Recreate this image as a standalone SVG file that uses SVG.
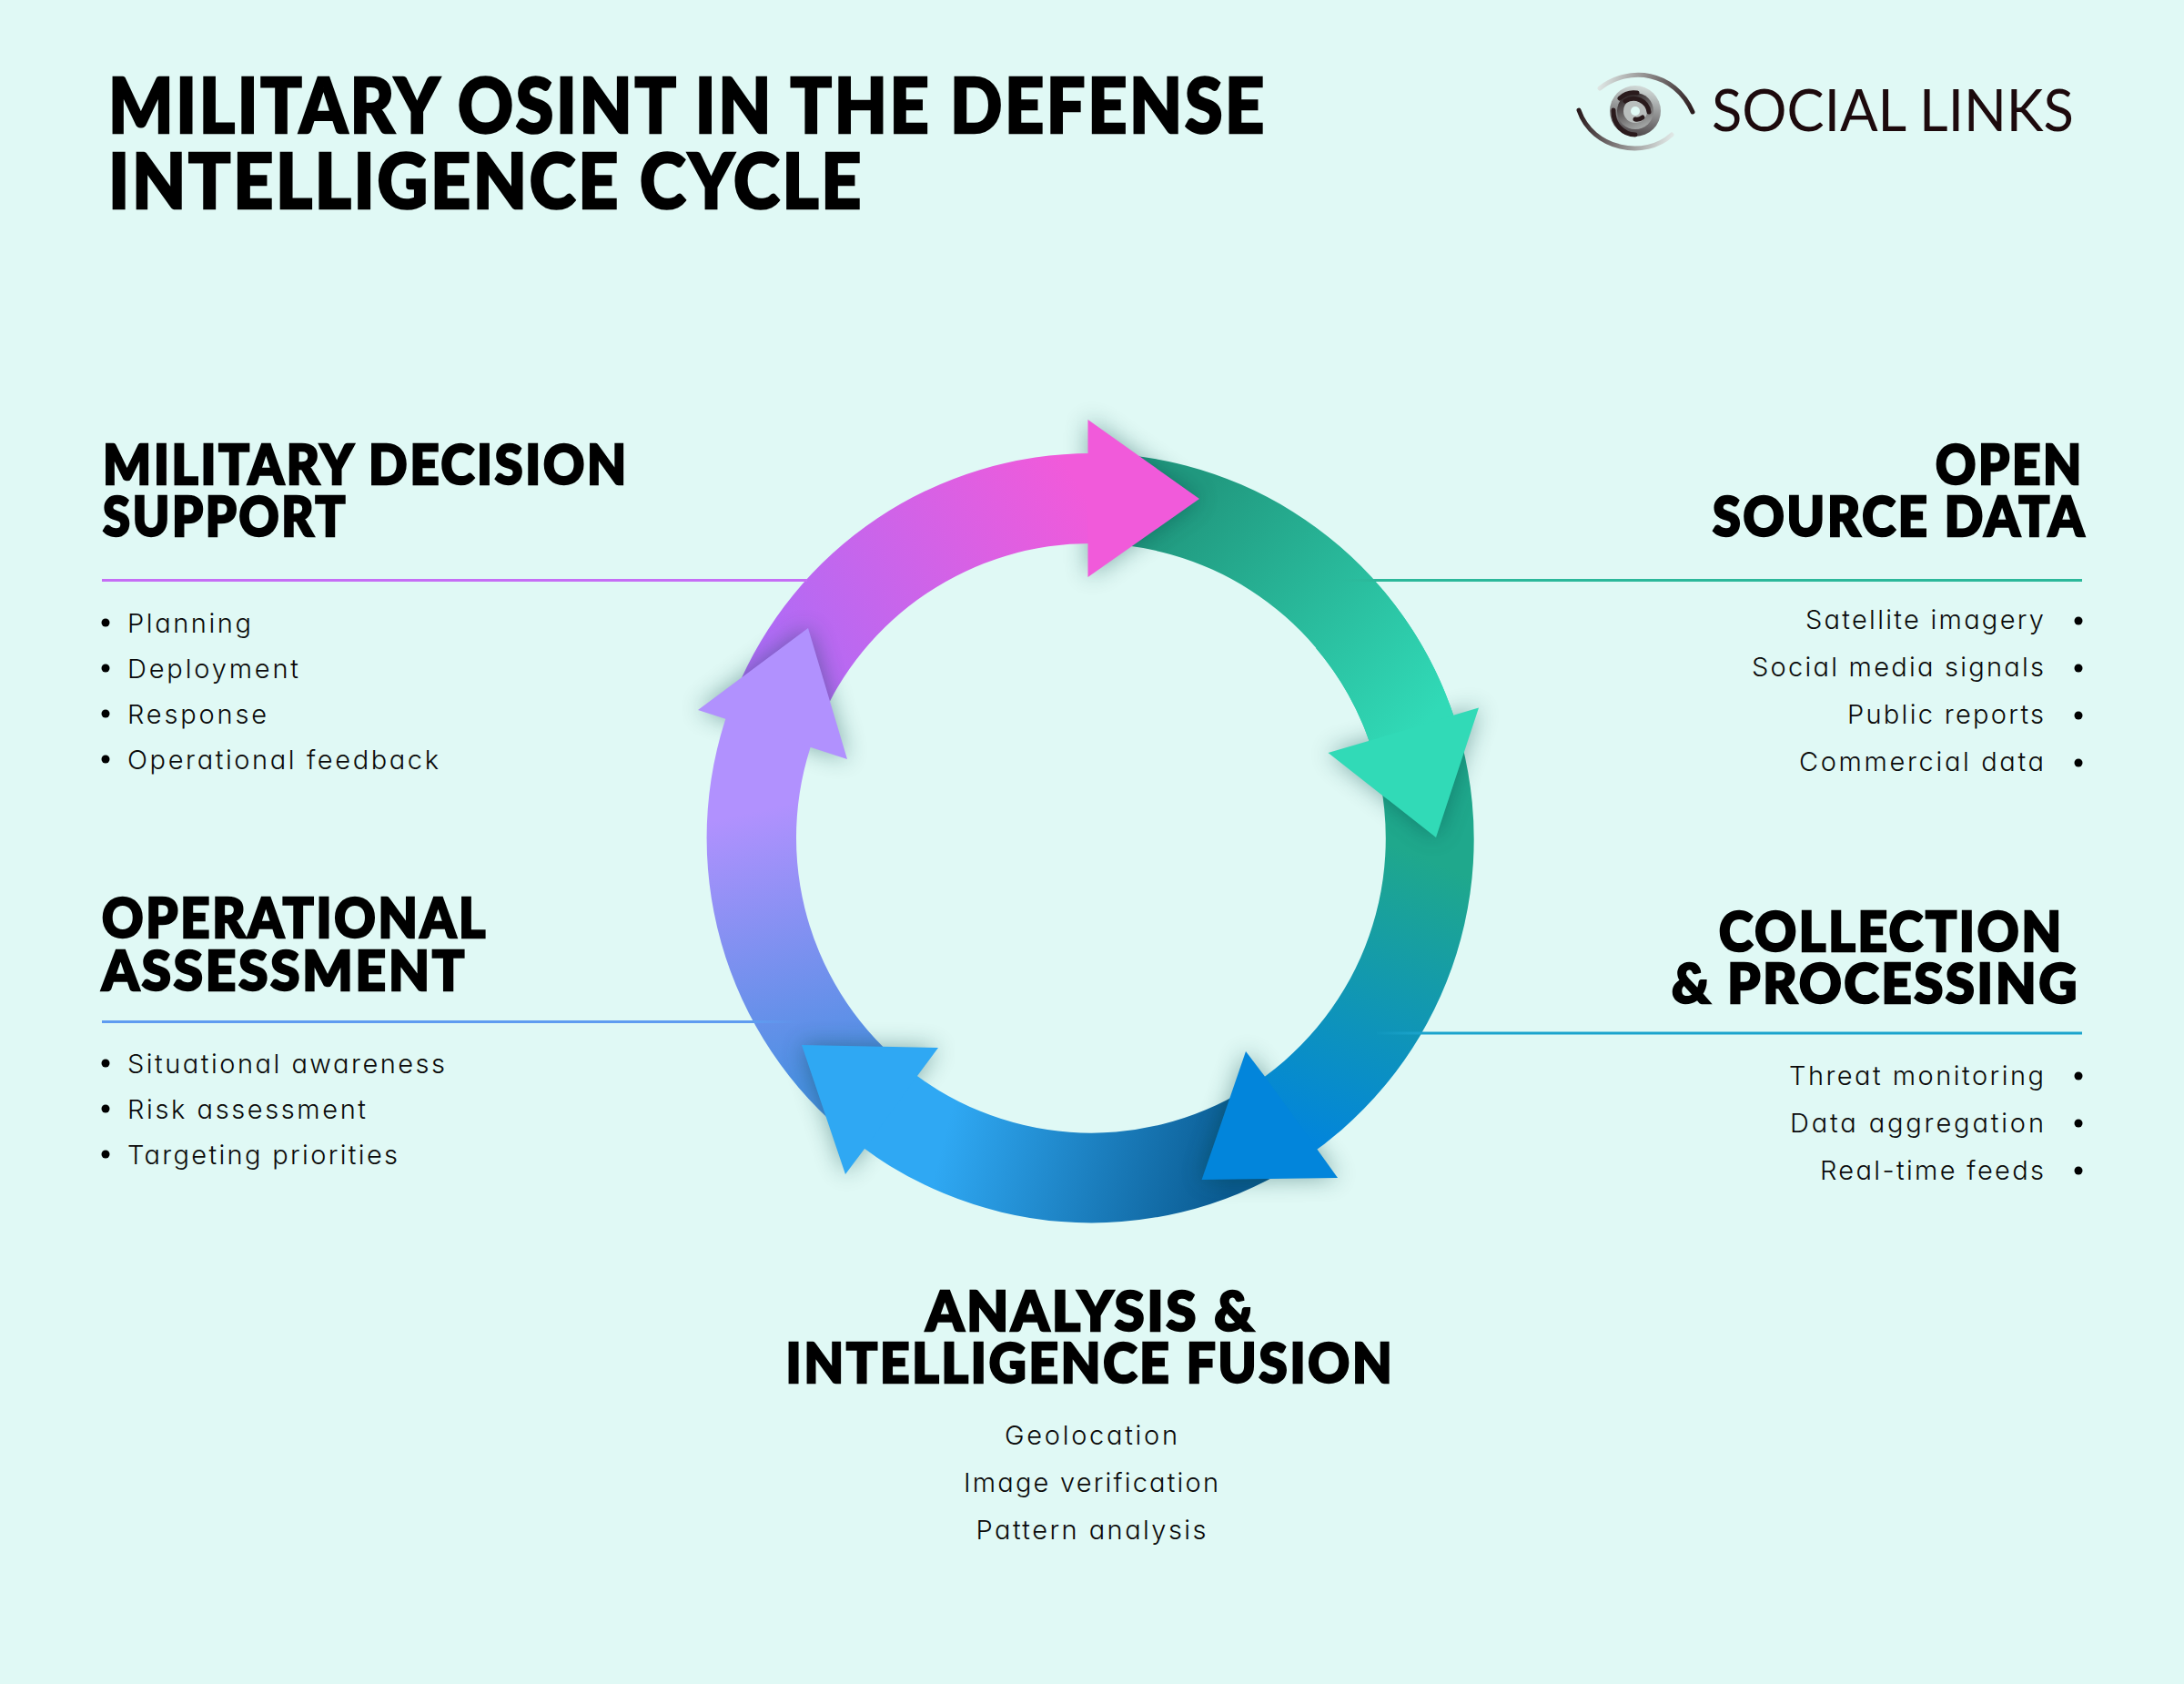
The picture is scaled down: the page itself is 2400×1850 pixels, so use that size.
<svg xmlns="http://www.w3.org/2000/svg" width="2400" height="1850" viewBox="0 0 2400 1850">
<style>
text{font-variant-ligatures:none}
.t{font-family:"Lato","Liberation Sans",sans-serif;font-weight:900;fill:#000;stroke:#000;stroke-width:2.6;letter-spacing:3px}
.title{font-size:84px}
.h{font-size:60px}
.b{font-family:"Inter","Lato","Liberation Sans",sans-serif;font-size:29px;font-weight:300;fill:#0a0a0a;font-feature-settings:"cv11" 1}
.e{text-anchor:end}
.m{text-anchor:middle}
.logo{font-family:"Lato","Liberation Sans",sans-serif;font-size:63px;font-weight:400;fill:#1d0a0d}
.dot{fill:#000}
.spiral{fill:none;stroke:#2a1a1c;stroke-width:5;stroke-linecap:round}
.sh{fill:#0c3f3f;opacity:.42;filter:url(#blur)}
</style>
<defs>
<filter id="blur" x="-40%" y="-40%" width="180%" height="180%"><feGaussianBlur stdDeviation="13"/></filter>
<linearGradient id="gPink" gradientUnits="userSpaceOnUse" x1="860" y1="740" x2="1190" y2="540"><stop offset="0" stop-color="#ae6cf6"/><stop offset="1" stop-color="#f15ada"/></linearGradient>
<linearGradient id="gTeal" gradientUnits="userSpaceOnUse" x1="1310" y1="550" x2="1570" y2="790"><stop offset="0" stop-color="#219a80"/><stop offset="1" stop-color="#31dab7"/></linearGradient>
<linearGradient id="gBlue" gradientUnits="userSpaceOnUse" x1="1560" y1="940" x2="1430" y2="1250"><stop offset="0" stop-color="#1fa88c"/><stop offset="1" stop-color="#0285db"/></linearGradient>
<linearGradient id="gBottom" gradientUnits="userSpaceOnUse" x1="1350" y1="1320" x2="1040" y2="1240"><stop offset="0" stop-color="#0a5a90"/><stop offset="1" stop-color="#2fa8f3"/></linearGradient>
<linearGradient id="gPurple" gradientUnits="userSpaceOnUse" x1="900" y1="1190" x2="835" y2="890"><stop offset="0" stop-color="#4a90e2"/><stop offset="1" stop-color="#b191fe"/></linearGradient>
<linearGradient id="lT" gradientUnits="userSpaceOnUse" x1="1468" y1="0" x2="1511" y2="0"><stop offset="0" stop-color="#2bb89a" stop-opacity="0"/><stop offset="1" stop-color="#2bb89a"/></linearGradient>
<linearGradient id="lB" gradientUnits="userSpaceOnUse" x1="828" y1="0" x2="880" y2="0"><stop offset="0" stop-color="#5f9cf0"/><stop offset="1" stop-color="#5f9cf0" stop-opacity="0"/></linearGradient>
<linearGradient id="lC" gradientUnits="userSpaceOnUse" x1="1513" y1="0" x2="1563" y2="0"><stop offset="0" stop-color="#1ba4cd" stop-opacity="0.1"/><stop offset="1" stop-color="#1ba4cd"/></linearGradient>
<linearGradient id="eyeUp" gradientUnits="userSpaceOnUse" x1="1758" y1="90" x2="1860" y2="123"><stop offset="0" stop-color="#dfe7e5"/><stop offset="1" stop-color="#2a1a1c"/></linearGradient>
<linearGradient id="eyeLow" gradientUnits="userSpaceOnUse" x1="1735" y1="121" x2="1837" y2="150"><stop offset="0" stop-color="#2a1a1c"/><stop offset="1" stop-color="#dfe7e5"/></linearGradient>
<linearGradient id="iris" x1="0.6" y1="0" x2="0.4" y2="1"><stop offset="0" stop-color="#d3dcda"/><stop offset="1" stop-color="#4a4346"/></linearGradient>
<linearGradient id="iris2" x1="0.3" y1="0" x2="0.7" y2="1"><stop offset="0" stop-color="#2e2426"/><stop offset="1" stop-color="#a9adac"/></linearGradient>
</defs>
<rect width="2400" height="1850" fill="#e0f9f5"/>

<g id="title">
<text class="t title" x="119" y="146" textLength="1273" lengthAdjust="spacingAndGlyphs">MILITARY OSINT IN THE DEFENSE</text>
<text class="t title" x="119" y="229" textLength="830" lengthAdjust="spacingAndGlyphs">INTELLIGENCE CYCLE</text>
</g>

<g id="logo">
<path d="M1758 97 C1790 72 1840 78 1860 123" fill="none" stroke="url(#eyeUp)" stroke-width="5" stroke-linecap="round"/>
<path d="M1735 121 C1750 165 1808 175 1837 148" fill="none" stroke="url(#eyeLow)" stroke-width="5" stroke-linecap="round"/>
<circle cx="1797" cy="122" r="28" fill="url(#iris)"/>
<circle cx="1797" cy="122" r="20" fill="url(#iris2)"/>
<circle cx="1797" cy="122" r="13" fill="#b9bebd"/>
<circle cx="1797" cy="122" r="5" fill="#e0f9f5"/>
<path class="spiral" d="M1773 121 A24 26 0 0 0 1797 148"/>
<path class="spiral" d="M1780 108 A22 22 0 0 1 1799 102"/>
<path class="spiral" d="M1786 111 A17 17 0 0 1 1812 123"/>
<path class="spiral" d="M1797 131 A10 10 0 0 0 1805 129"/>
<text class="logo" x="1881" y="144" textLength="398" lengthAdjust="spacingAndGlyphs">SOCIAL LINKS</text>
</g>

<g id="cycle">
<path id="arc-open-source" d="M1240 500 A423 423 0 0 1 1606 815.3 L1512 838 A324 324 0 0 0 1240 599.6 Z" fill="url(#gTeal)"/>

<polygon class="sh" points="1195.5,499 1195.5,461 1318,548 1195.5,634 1195.5,597"/>
<path id="arc-decision" d="M808 760.6 A423 423 0 0 1 1200 498 L1200 597 A324 324 0 0 0 899 798 Z" fill="url(#gPink)"/>
<polygon id="head-decision" points="1195.5,499 1195.5,461 1318,548 1195.5,634 1195.5,597" fill="#f15ada"/>

<polygon class="sh" points="798,790 767,780 888,690 931,834 891,821"/>
<path id="arc-assessment" d="M924.4 1241.8 A423 423 0 0 1 808 760.6 L899 798 A324 324 0 0 0 990 1168 Z" fill="url(#gPurple)"/>
<polygon id="head-assessment" points="798,790 767,780 888,690 931,834 891,821" fill="#b191fe"/>

<polygon class="sh" points="1008,1182 1031,1151 881,1148 929,1290 950,1262"/>
<path id="arc-analysis" d="M1420.5 1281 A423 423 0 0 1 924.4 1241.8 L990 1168 A324 324 0 0 0 1370 1196 Z" fill="url(#gBottom)"/>
<polygon id="head-analysis" points="1008,1182 1031,1151 881,1148 929,1290 950,1262" fill="#2fa8f3"/>

<polygon class="sh" points="1389.5,1182 1369,1155 1320.6,1296 1470,1294 1447,1262"/>
<path id="arc-collection" d="M1606 815.3 A423 423 0 0 1 1420.5 1281 L1370 1196 A324 324 0 0 0 1512 838 Z" fill="url(#gBlue)"/>
<polygon id="head-collection" points="1389.5,1182 1369,1155 1320.6,1296 1470,1294 1447,1262" fill="#0285db"/>

<polygon class="sh" points="1598,785.6 1625,777.5 1578,920 1459.5,827 1504,814"/>
<path id="arc-open-source-end" d="M1520 648.8 A423 423 0 0 1 1606 815.3 L1512 838 A324 324 0 0 0 1446 712 Z" fill="url(#gTeal)"/>
<polygon id="head-open-source" points="1598,785.6 1625,777.5 1578,920 1459.5,827 1504,814" fill="#31dab7"/>
</g>

<g id="connectors">
<rect x="112" y="636" width="775" height="3" fill="#c56ef5"/>
<rect x="1468" y="636" width="820" height="3" fill="url(#lT)"/>
<rect x="112" y="1121" width="768" height="3" fill="url(#lB)"/>
<rect x="1513" y="1133.5" width="775" height="3" fill="url(#lC)"/>
</g>

<g id="node-decision">
<text class="t h" x="113" y="532" textLength="578" lengthAdjust="spacingAndGlyphs">MILITARY DECISION</text>
<text class="t h" x="113" y="589" textLength="269" lengthAdjust="spacingAndGlyphs">SUPPORT</text>
<circle class="dot" cx="116" cy="684" r="4.5"/><text class="b" x="140" y="695" textLength="136">Planning</text>
<circle class="dot" cx="116" cy="734" r="4.5"/><text class="b" x="140" y="745" textLength="188">Deployment</text>
<circle class="dot" cx="116" cy="784" r="4.5"/><text class="b" x="140" y="795" textLength="153">Response</text>
<circle class="dot" cx="116" cy="834" r="4.5"/><text class="b" x="140" y="845" textLength="342">Operational feedback</text>
</g>

<g id="node-assessment">
<text class="t h" x="112" y="1030" textLength="424" lengthAdjust="spacingAndGlyphs">OPERATIONAL</text>
<text class="t h" x="112" y="1088" textLength="401" lengthAdjust="spacingAndGlyphs">ASSESSMENT</text>
<circle class="dot" cx="116" cy="1168" r="4.5"/><text class="b" x="140" y="1179" textLength="349">Situational awareness</text>
<circle class="dot" cx="116" cy="1218" r="4.5"/><text class="b" x="140" y="1229" textLength="262">Risk assessment</text>
<circle class="dot" cx="116" cy="1268" r="4.5"/><text class="b" x="140" y="1279" textLength="297">Targeting priorities</text>
</g>

<g id="node-open-source">
<text class="t h e" x="2290" y="532" textLength="163" lengthAdjust="spacingAndGlyphs">OPEN</text>
<text class="t h e" x="2293" y="589" textLength="411" lengthAdjust="spacingAndGlyphs">SOURCE DATA</text>
<text class="b e" x="2246" y="691" textLength="262">Satellite imagery</text><circle class="dot" cx="2284" cy="682" r="4.5"/>
<text class="b e" x="2246" y="743" textLength="321">Social media signals</text><circle class="dot" cx="2284" cy="734" r="4.5"/>
<text class="b e" x="2246" y="795" textLength="216">Public reports</text><circle class="dot" cx="2284" cy="786" r="4.5"/>
<text class="b e" x="2246" y="847" textLength="269">Commercial data</text><circle class="dot" cx="2284" cy="838" r="4.5"/>
</g>

<g id="node-collection">
<text class="t h e" x="2268" y="1045" textLength="379" lengthAdjust="spacingAndGlyphs">COLLECTION</text>
<text class="t h e" x="2285" y="1102" textLength="448" lengthAdjust="spacingAndGlyphs">&amp; PROCESSING</text>
<text class="b e" x="2246" y="1192" textLength="280">Threat monitoring</text><circle class="dot" cx="2284" cy="1182" r="4.5"/>
<text class="b e" x="2246" y="1244" textLength="279">Data aggregation</text><circle class="dot" cx="2284" cy="1234" r="4.5"/>
<text class="b e" x="2246" y="1296" textLength="246">Real-time feeds</text><circle class="dot" cx="2284" cy="1286" r="4.5"/>
</g>

<g id="node-analysis">
<text class="t h m" x="1199" y="1462" textLength="363" lengthAdjust="spacingAndGlyphs">ANALYSIS &amp;</text>
<text class="t h m" x="1198" y="1519" textLength="669" lengthAdjust="spacingAndGlyphs">INTELLIGENCE FUSION</text>
<text class="b m" x="1199" y="1587" textLength="190">Geolocation</text>
<text class="b m" x="1199" y="1639" textLength="280">Image verification</text>
<text class="b m" x="1199" y="1691" textLength="253">Pattern analysis</text>
</g>
</svg>
